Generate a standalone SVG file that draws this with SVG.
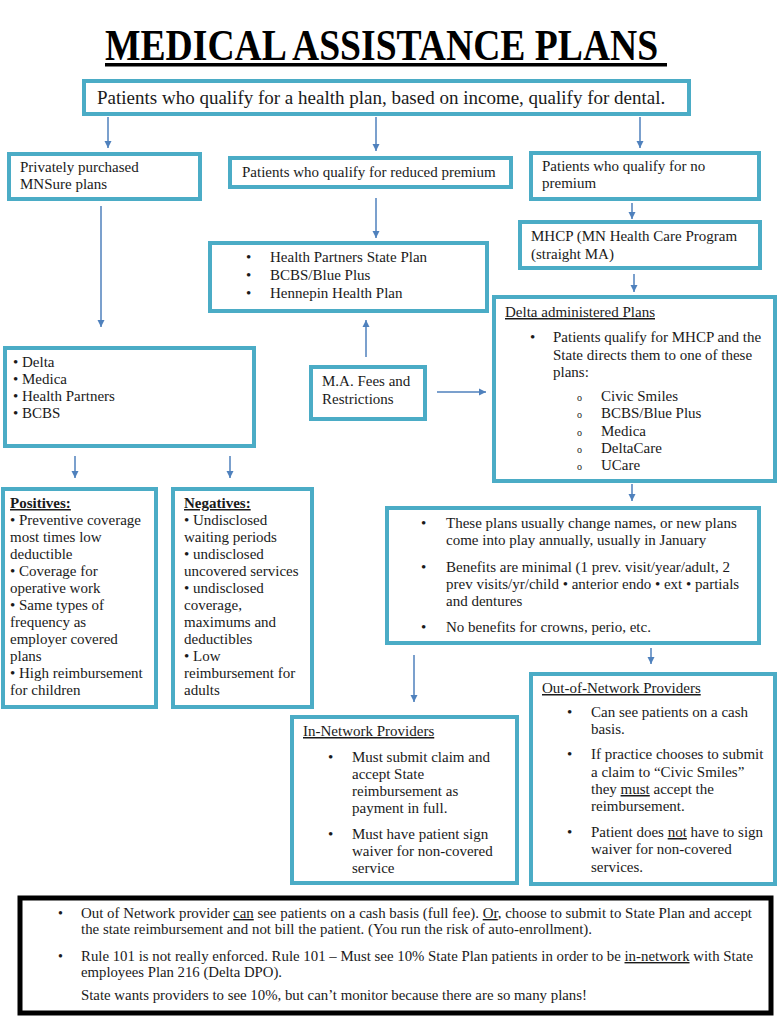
<svg xmlns="http://www.w3.org/2000/svg" width="782" height="1024" viewBox="0 0 782 1024">
<defs>
<marker id="ah" markerUnits="userSpaceOnUse" markerWidth="8" markerHeight="8" refX="7" refY="4" orient="auto">
<path d="M0,0.5 L7,4 L0,7.5 z" fill="#4F81BD"/>
</marker>
<style>
.box{fill:#fff;stroke:#4BACC6;stroke-width:4}
.bbox{fill:#fff;stroke:#000;stroke-width:5}
.t{font-size:15px;fill:#1a1a1a}
.big{font-size:19px;fill:#1a1a1a}
.s{font-size:14px;fill:#1a1a1a}
.o{font-size:10px;fill:#1a1a1a}
.u{text-decoration:underline}
.c{stroke:#4F81BD;stroke-width:1.5;fill:none;marker-end:url(#ah)}
</style>
</defs>
<rect width="782" height="1024" fill="#fff"/>
<g font-family="Liberation Serif, Times New Roman, serif">
<g id="title">
<text transform="translate(105,60) scale(0.855,1)" x="0" y="0" font-size="44" font-weight="bold" fill="#000">MEDICAL ASSISTANCE PLANS</text>
<rect x="105" y="63" width="562" height="3.5" fill="#000"/>
</g>
<g id="connectors">
<line class="c" x1="108" y1="117" x2="108" y2="148"/>
<line class="c" x1="376" y1="117" x2="376" y2="151"/>
<line class="c" x1="640" y1="117" x2="640" y2="148"/>
<line class="c" x1="101" y1="206" x2="101" y2="327"/>
<line class="c" x1="376" y1="198" x2="376" y2="238"/>
<line class="c" x1="632" y1="203" x2="632" y2="219"/>
<line class="c" x1="634" y1="274" x2="634" y2="292"/>
<line class="c" x1="366" y1="357" x2="366" y2="320"/>
<line class="c" x1="437" y1="392" x2="486" y2="392"/>
<line class="c" x1="75" y1="456" x2="75" y2="478"/>
<line class="c" x1="230" y1="456" x2="230" y2="478"/>
<line class="c" x1="632" y1="484" x2="632" y2="501"/>
<line class="c" x1="414" y1="655" x2="414" y2="702"/>
<line class="c" x1="651" y1="648" x2="651" y2="664"/>
</g>
<g id="top">
<rect class="box" x="84" y="81" width="605" height="33"/>
<text class="big" x="97" y="104">Patients who qualify for a health plan, based on income, qualify for dental.</text>
</g>
<g id="private">
<rect class="box" x="9" y="154" width="191" height="45"/>
<text class="t" x="20" y="172">Privately purchased</text>
<text class="t" x="20" y="189">MNSure plans</text>
</g>
<g id="reduced">
<rect class="box" x="230" y="158" width="281" height="29"/>
<text class="t" x="242" y="177">Patients who qualify for reduced premium</text>
</g>
<g id="nopremium">
<rect class="box" x="531" y="153" width="228" height="46"/>
<text class="t" x="542" y="171">Patients who qualify for no</text>
<text class="t" x="542" y="188">premium</text>
</g>
<g id="mhcp">
<rect class="box" x="520" y="222" width="240" height="46"/>
<text class="t" x="531" y="241">MHCP (MN Health Care Program</text>
<text class="t" x="531" y="259">(straight MA)</text>
</g>
<g id="stateplans">
<rect class="box" x="210" y="243" width="277" height="68"/>
<text class="t" x="246" y="262">•</text><text class="t" x="270" y="262">Health Partners State Plan</text>
<text class="t" x="246" y="280">•</text><text class="t" x="270" y="280">BCBS/Blue Plus</text>
<text class="t" x="246" y="298">•</text><text class="t" x="270" y="298">Hennepin Health Plan</text>
</g>
<g id="carriers">
<rect class="box" x="5" y="348" width="249" height="98"/>
<text class="t" x="13" y="367">• Delta</text>
<text class="t" x="13" y="384">• Medica</text>
<text class="t" x="13" y="401">• Health Partners</text>
<text class="t" x="13" y="418">• BCBS</text>
</g>
<g id="mafees">
<rect class="box" x="311" y="367" width="114" height="52"/>
<text class="t" x="322" y="386">M.A. Fees and</text>
<text class="t" x="322" y="404">Restrictions</text>
</g>
<g id="delta">
<rect class="box" x="494" y="297" width="281" height="184"/>
<text class="t u" x="505" y="317">Delta administered Plans</text>
<text class="t" x="530" y="342">•</text>
<text class="t" x="553" y="342">Patients qualify for MHCP and the</text>
<text class="t" x="553" y="360">State directs them to one of these</text>
<text class="t" x="553" y="377">plans:</text>
<text class="o" x="577" y="401">o</text><text class="t" x="601" y="401">Civic Smiles</text>
<text class="o" x="577" y="418">o</text><text class="t" x="601" y="418">BCBS/Blue Plus</text>
<text class="o" x="577" y="436">o</text><text class="t" x="601" y="436">Medica</text>
<text class="o" x="577" y="453">o</text><text class="t" x="601" y="453">DeltaCare</text>
<text class="o" x="577" y="470">o</text><text class="t" x="601" y="470">UCare</text>
</g>
<g id="positives">
<rect class="box" x="3" y="489" width="153" height="218"/>
<text class="t" x="10" y="508"><tspan class="u" font-weight="bold">Positives:</tspan></text>
<text class="t" x="10" y="525">• Preventive coverage</text>
<text class="t" x="10" y="542">most times low</text>
<text class="t" x="10" y="559">deductible</text>
<text class="t" x="10" y="576">• Coverage for</text>
<text class="t" x="10" y="593">operative work</text>
<text class="t" x="10" y="610">• Same types of</text>
<text class="t" x="10" y="627">frequency as</text>
<text class="t" x="10" y="644">employer covered</text>
<text class="t" x="10" y="661">plans</text>
<text class="t" x="10" y="678">• High reimbursement</text>
<text class="t" x="10" y="695">for children</text>
</g>
<g id="negatives">
<rect class="box" x="173" y="489" width="139" height="218"/>
<text class="t" x="184" y="508"><tspan class="u" font-weight="bold">Negatives:</tspan></text>
<text class="t" x="184" y="525">• Undisclosed</text>
<text class="t" x="184" y="542">waiting periods</text>
<text class="t" x="184" y="559">• undisclosed</text>
<text class="t" x="184" y="576">uncovered services</text>
<text class="t" x="184" y="593">• undisclosed</text>
<text class="t" x="184" y="610">coverage,</text>
<text class="t" x="184" y="627">maximums and</text>
<text class="t" x="184" y="644">deductibles</text>
<text class="t" x="184" y="661">• Low</text>
<text class="t" x="184" y="678">reimbursement for</text>
<text class="t" x="184" y="695">adults</text>
</g>
<g id="notes">
<rect class="box" x="387" y="508" width="372" height="135"/>
<text class="t" x="421" y="528">•</text>
<text class="t" x="446" y="528">These plans usually change names, or new plans</text>
<text class="t" x="446" y="545">come into play annually, usually in January</text>
<text class="t" x="421" y="572">•</text>
<text class="t" x="446" y="572">Benefits are minimal (1 prev. visit/year/adult, 2</text>
<text class="t" x="446" y="589">prev visits/yr/child • anterior endo • ext • partials</text>
<text class="t" x="446" y="606">and dentures</text>
<text class="t" x="421" y="632">•</text>
<text class="t" x="446" y="632">No benefits for crowns, perio, etc.</text>
</g>
<g id="innetwork">
<rect class="box" x="292" y="717" width="225" height="166"/>
<text class="t u" x="303" y="736">In-Network Providers</text>
<text class="t" x="328" y="762">•</text>
<text class="t" x="352" y="762">Must submit claim and</text>
<text class="t" x="352" y="779">accept State</text>
<text class="t" x="352" y="796">reimbursement as</text>
<text class="t" x="352" y="813">payment in full.</text>
<text class="t" x="328" y="839">•</text>
<text class="t" x="352" y="839">Must have patient sign</text>
<text class="t" x="352" y="856">waiver for non-covered</text>
<text class="t" x="352" y="873">service</text>
</g>
<g id="outnetwork">
<rect class="box" x="531" y="674" width="244" height="210"/>
<text class="t u" x="542" y="693">Out-of-Network Providers</text>
<text class="t" x="567" y="717">•</text>
<text class="t" x="591" y="717">Can see patients on a cash</text>
<text class="t" x="591" y="734">basis.</text>
<text class="t" x="567" y="759">•</text>
<text class="t" x="591" y="759">If practice chooses to submit</text>
<text class="t" x="591" y="777">a claim to “Civic Smiles”</text>
<text class="t" x="591" y="794">they <tspan class="u">must</tspan> accept the</text>
<text class="t" x="591" y="811">reimbursement.</text>
<text class="t" x="567" y="837">•</text>
<text class="t" x="591" y="837">Patient does <tspan class="u">not</tspan> have to sign</text>
<text class="t" x="591" y="854">waiver for non-covered</text>
<text class="t" x="591" y="872">services.</text>
</g>
<g id="summary">
<rect class="bbox" x="20" y="898" width="751" height="115"/>
<text class="s" x="58" y="918">•</text>
<text class="s" x="81" y="918" textLength="671" lengthAdjust="spacingAndGlyphs">Out of Network provider <tspan class="u">can</tspan> see patients on a cash basis (full fee). <tspan class="u">Or</tspan>, choose to submit to State Plan and accept</text>
<text class="s" x="81" y="934" textLength="511" lengthAdjust="spacingAndGlyphs">the state reimbursement and not bill the patient. (You run the risk of auto-enrollment).</text>
<text class="s" x="58" y="961">•</text>
<text class="s" x="81" y="961" textLength="672" lengthAdjust="spacingAndGlyphs">Rule 101 is not really enforced. Rule 101 – Must see 10% State Plan patients in order to be <tspan class="u">in-network</tspan> with State</text>
<text class="s" x="81" y="977" textLength="201" lengthAdjust="spacingAndGlyphs">employees Plan 216 (Delta DPO).</text>
<text class="s" x="81" y="1000" textLength="506" lengthAdjust="spacingAndGlyphs">State wants providers to see 10%, but can’t monitor because there are so many plans!</text>
</g>
</g>
</svg>
